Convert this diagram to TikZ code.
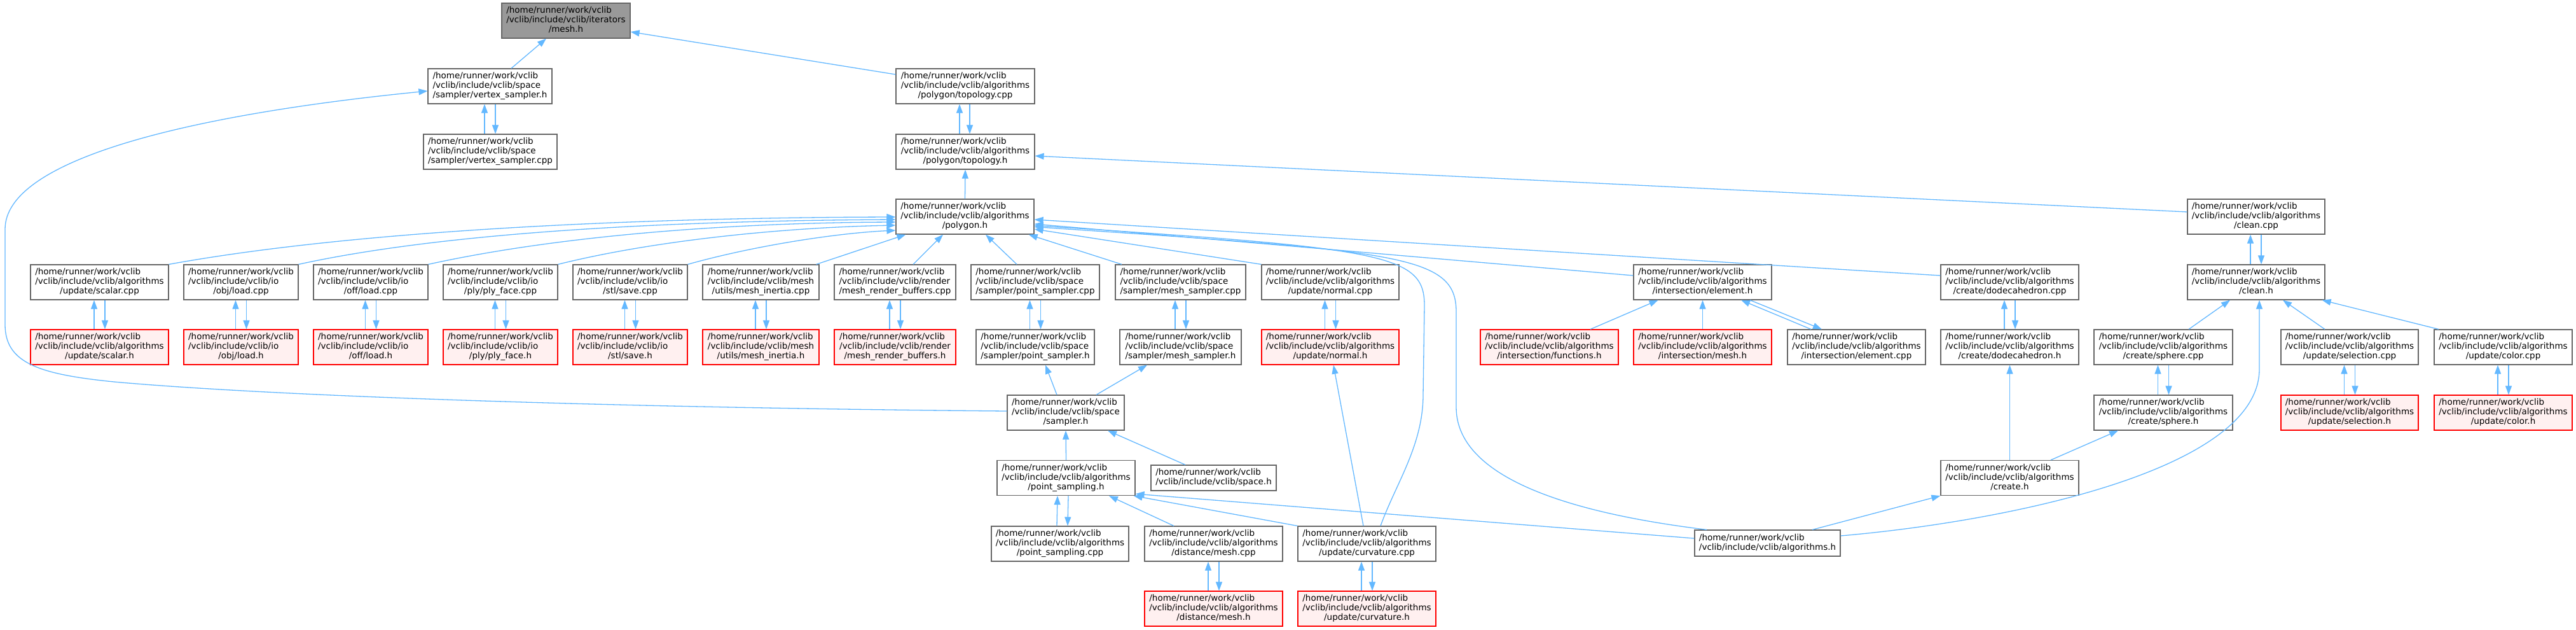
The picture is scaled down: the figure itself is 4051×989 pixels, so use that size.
\documentclass[tikz,border=0pt]{standalone}
\usepackage{fontspec}
\setmainfont{DejaVu Sans}
\usetikzlibrary{arrows.meta}
\definecolor{edgeblue}{HTML}{63B8FF}
\definecolor{boxgray}{HTML}{666666}
\definecolor{hlfill}{HTML}{999999}
\definecolor{redfill}{HTML}{FFF0F0}
\newcommand{\hrw}{/home/runner/work/vclib}
\newcommand{\lthree}[3]{\begin{tabular}{@{}l@{}}#1\\#2\\\multicolumn{1}{@{}c@{}}{#3}\end{tabular}}
\newcommand{\ltwo}[2]{\begin{tabular}{@{}l@{}}#1\\\multicolumn{1}{@{}c@{}}{#2}\end{tabular}}
\begin{document}
\begin{tikzpicture}[x=1pt,y=-1pt,
  font=\fontsize{13.5}{15}\selectfont,
  box/.style={rectangle, draw=boxgray, line width=1.2pt, fill=white, inner sep=0pt, minimum height=55pt},
  hl/.style={box, fill=hlfill},
  trunc/.style={box, draw=red, fill=redfill},
  edge/.style={draw=edgeblue, line width=1.3pt, -{Triangle[length=14pt,width=10pt]}}]
\fill[white] (0,0) rectangle (4051,989);
\useasboundingbox (0,0) rectangle (4051,989);
% row 0
\node[hl, minimum width=202pt] (itmesh) at (890,32.5) {\lthree{\hrw}{/vclib/include/vclib/iterators}{/mesh.h}};
% row 1
\node[box, minimum width=195pt] (vsh) at (770.5,135.5) {\lthree{\hrw}{/vclib/include/vclib/space}{/sampler/vertex\_sampler.h}};
\node[box, minimum width=218pt] (topocpp) at (1518,135.5) {\lthree{\hrw}{/vclib/include/vclib/algorithms}{/polygon/topology.cpp}};
% row 2
\node[box, minimum width=210pt] (vscpp) at (771,238.5) {\lthree{\hrw}{/vclib/include/vclib/space}{/sampler/vertex\_sampler.cpp}};
\node[box, minimum width=218pt] (topoh) at (1518,238.5) {\lthree{\hrw}{/vclib/include/vclib/algorithms}{/polygon/topology.h}};
% row 3
\node[box, minimum width=217pt] (polyh) at (1517.5,340.5) {\lthree{\hrw}{/vclib/include/vclib/algorithms}{/polygon.h}};
\node[box, minimum width=216pt] (cleancpp) at (3548,340.5) {\lthree{\hrw}{/vclib/include/vclib/algorithms}{/clean.cpp}};
% row 4
\node[box, minimum width=217pt] (scalarcpp) at (156.5,443.5) {\lthree{\hrw}{/vclib/include/vclib/algorithms}{/update/scalar.cpp}};
\node[box, minimum width=180pt] (objcpp) at (379,443.5) {\lthree{\hrw}{/vclib/include/vclib/io}{/obj/load.cpp}};
\node[box, minimum width=180pt] (offcpp) at (583,443.5) {\lthree{\hrw}{/vclib/include/vclib/io}{/off/load.cpp}};
\node[box, minimum width=180pt] (plycpp) at (787,443.5) {\lthree{\hrw}{/vclib/include/vclib/io}{/ply/ply\_face.cpp}};
\node[box, minimum width=180pt] (stlcpp) at (991,443.5) {\lthree{\hrw}{/vclib/include/vclib/io}{/stl/save.cpp}};
\node[box, minimum width=183pt] (inertiacpp) at (1196.5,443.5) {\lthree{\hrw}{/vclib/include/vclib/mesh}{/utils/mesh\_inertia.cpp}};
\node[box, minimum width=191pt] (mrbcpp) at (1407.5,443.5) {\lthree{\hrw}{/vclib/include/vclib/render}{/mesh\_render\_buffers.cpp}};
\node[box, minimum width=202pt] (pscpp) at (1628,443.5) {\lthree{\hrw}{/vclib/include/vclib/space}{/sampler/point\_sampler.cpp}};
\node[box, minimum width=205pt] (mscpp) at (1856.5,443.5) {\lthree{\hrw}{/vclib/include/vclib/space}{/sampler/mesh\_sampler.cpp}};
\node[box, minimum width=216pt] (normalcpp) at (2092,443.5) {\lthree{\hrw}{/vclib/include/vclib/algorithms}{/update/normal.cpp}};
\node[box, minimum width=217pt] (elemh) at (2677.5,443.5) {\lthree{\hrw}{/vclib/include/vclib/algorithms}{/intersection/element.h}};
\node[box, minimum width=217pt] (dodecpp) at (3160.5,443.5) {\lthree{\hrw}{/vclib/include/vclib/algorithms}{/create/dodecahedron.cpp}};
\node[box, minimum width=216pt] (cleanh) at (3548,443.5) {\lthree{\hrw}{/vclib/include/vclib/algorithms}{/clean.h}};
% row 5
\node[trunc, minimum width=217pt] (scalarh) at (156.5,545.5) {\lthree{\hrw}{/vclib/include/vclib/algorithms}{/update/scalar.h}};
\node[trunc, minimum width=180pt] (objh) at (379,545.5) {\lthree{\hrw}{/vclib/include/vclib/io}{/obj/load.h}};
\node[trunc, minimum width=180pt] (offh) at (583,545.5) {\lthree{\hrw}{/vclib/include/vclib/io}{/off/load.h}};
\node[trunc, minimum width=180pt] (plyh) at (787,545.5) {\lthree{\hrw}{/vclib/include/vclib/io}{/ply/ply\_face.h}};
\node[trunc, minimum width=180pt] (stlh) at (991,545.5) {\lthree{\hrw}{/vclib/include/vclib/io}{/stl/save.h}};
\node[trunc, minimum width=183pt] (inertiah) at (1196.5,545.5) {\lthree{\hrw}{/vclib/include/vclib/mesh}{/utils/mesh\_inertia.h}};
\node[trunc, minimum width=191pt] (mrbh) at (1407.5,545.5) {\lthree{\hrw}{/vclib/include/vclib/render}{/mesh\_render\_buffers.h}};
\node[box, minimum width=186pt] (psh) at (1628,545.5) {\lthree{\hrw}{/vclib/include/vclib/space}{/sampler/point\_sampler.h}};
\node[box, minimum width=191pt] (msh) at (1856.5,545.5) {\lthree{\hrw}{/vclib/include/vclib/space}{/sampler/mesh\_sampler.h}};
\node[trunc, minimum width=216pt] (normalh) at (2092,545.5) {\lthree{\hrw}{/vclib/include/vclib/algorithms}{/update/normal.h}};
\node[trunc, minimum width=217pt] (funch) at (2436.5,545.5) {\lthree{\hrw}{/vclib/include/vclib/algorithms}{/intersection/functions.h}};
\node[trunc, minimum width=217pt] (imeshh) at (2677.5,545.5) {\lthree{\hrw}{/vclib/include/vclib/algorithms}{/intersection/mesh.h}};
\node[box, minimum width=217pt] (elemcpp) at (2919.5,545.5) {\lthree{\hrw}{/vclib/include/vclib/algorithms}{/intersection/element.cpp}};
\node[box, minimum width=217pt] (dodeh) at (3160.5,545.5) {\lthree{\hrw}{/vclib/include/vclib/algorithms}{/create/dodecahedron.h}};
\node[box, minimum width=218pt] (spherecpp) at (3402,545.5) {\lthree{\hrw}{/vclib/include/vclib/algorithms}{/create/sphere.cpp}};
\node[box, minimum width=216pt] (selcpp) at (3695,545.5) {\lthree{\hrw}{/vclib/include/vclib/algorithms}{/update/selection.cpp}};
\node[box, minimum width=217pt] (colorcpp) at (3936.5,545.5) {\lthree{\hrw}{/vclib/include/vclib/algorithms}{/update/color.cpp}};
% row 6
\node[box, minimum width=184pt] (samplerh) at (1676,648.5) {\lthree{\hrw}{/vclib/include/vclib/space}{/sampler.h}};
\node[box, minimum width=218pt] (sphereh) at (3402,648.5) {\lthree{\hrw}{/vclib/include/vclib/algorithms}{/create/sphere.h}};
\node[trunc, minimum width=216pt] (selh) at (3695,648.5) {\lthree{\hrw}{/vclib/include/vclib/algorithms}{/update/selection.h}};
\node[trunc, minimum width=217pt] (colorh) at (3936.5,648.5) {\lthree{\hrw}{/vclib/include/vclib/algorithms}{/update/color.h}};
% row 7
\node[box, minimum width=217pt] (psamplingh) at (1676.5,751) {\lthree{\hrw}{/vclib/include/vclib/algorithms}{/point\_sampling.h}};
\node[box, minimum width=197pt, minimum height=40pt] (spaceh) at (1908.5,751) {\ltwo{\hrw}{/vclib/include/vclib/space.h}};
\node[box, minimum width=217pt] (createh) at (3160.5,751) {\lthree{\hrw}{/vclib/include/vclib/algorithms}{/create.h}};
% row 8
\node[box, minimum width=216pt] (psamplingcpp) at (1667,854.5) {\lthree{\hrw}{/vclib/include/vclib/algorithms}{/point\_sampling.cpp}};
\node[box, minimum width=217pt] (distcpp) at (1908.5,854.5) {\lthree{\hrw}{/vclib/include/vclib/algorithms}{/distance/mesh.cpp}};
\node[box, minimum width=217pt] (curvcpp) at (2149.5,854.5) {\lthree{\hrw}{/vclib/include/vclib/algorithms}{/update/curvature.cpp}};
\node[box, minimum width=229pt, minimum height=41pt] (algoh) at (2779.5,853.5) {\ltwo{\hrw}{/vclib/include/vclib/algorithms.h}};
% row 9
\node[trunc, minimum width=217pt] (disth) at (1908.5,956.5) {\lthree{\hrw}{/vclib/include/vclib/algorithms}{/distance/mesh.h}};
\node[trunc, minimum width=217pt] (curvh) at (2149.5,956.5) {\lthree{\hrw}{/vclib/include/vclib/algorithms}{/update/curvature.h}};

% ---- edges ----
\draw[edge] ([xshift=33.5pt]vsh.north) -- ([xshift=-31pt]itmesh.south);
\draw[edge] ([yshift=18.5pt]topocpp.west) -- ([yshift=-17.5pt]itmesh.east);
\draw[edge] ([xshift=-9pt]vscpp.north) -- ([xshift=-8.5pt]vsh.south);
\draw[edge] ([xshift=8.5pt]vsh.south) -- ([xshift=8pt]vscpp.north);
\draw[edge] ([xshift=-9pt]topoh.north) -- ([xshift=-9pt]topocpp.south);
\draw[edge] ([xshift=7pt]topocpp.south) -- ([xshift=7pt]topoh.north);
\draw[edge] (polyh.north) -- (topoh.south);
\draw[edge] ([yshift=7.5pt]cleancpp.west) -- ([yshift=-6.5pt]topoh.east);
\draw[edge] ([xshift=-9pt]cleanh.north) -- ([xshift=-9pt]cleancpp.south);
\draw[edge] ([xshift=8pt]cleancpp.south) -- ([xshift=8pt]cleanh.north);
\draw[edge] ([yshift=2.5pt]samplerh.west) .. controls (900,640) and (400,620) .. (179,600) .. controls (60,588) and (8,570) .. (8,510) -- (8,360) .. controls (8,250) and (300,180) .. ([yshift=-7.5pt]vsh.west);
% into polygon.h from the left
\draw[edge] (scalarcpp.north east) .. controls (560,362) and (1000,342) .. ([yshift=-0.5pt]polyh.west);
\draw[edge] (objcpp.north east) .. controls (700,365) and (1050,347) .. ([yshift=-4.5pt]polyh.west);
\draw[edge] (offcpp.north east) .. controls (880,370) and (1150,350) .. ([yshift=-8.5pt]polyh.west);
\draw[edge] (plycpp.north east) .. controls (1040,375) and (1250,357) .. ([yshift=-13.5pt]polyh.west);
\draw[edge] (stlcpp.north east) .. controls (1190,385) and (1320,366) .. ([yshift=-21.5pt]polyh.west);
\draw[edge] ([xshift=-5pt]inertiacpp.north east) -- ([xshift=16pt]polyh.south west);
\draw[edge] ([xshift=28.5pt]mrbcpp.north) -- ([xshift=-34.5pt]polyh.south);
\draw[edge] ([xshift=-29pt]pscpp.north) -- ([xshift=32.5pt]polyh.south);
\draw[edge] ([xshift=-92.5pt]mscpp.north) -- ([xshift=-9pt]polyh.south east);
\draw[edge] (normalcpp.north west) -- ([yshift=-19.5pt]polyh.east);
\draw[edge] ([yshift=10.5pt]elemh.west) -- ([yshift=-11.5pt]polyh.east);
\draw[edge] ([yshift=10.5pt]dodecpp.west) -- ([yshift=-4.5pt]polyh.east);
\draw[edge] ([xshift=21.5pt]curvcpp.north) .. controls (2195,760) and (2238,700) .. (2238,620) -- (2240,480) .. controls (2240,400) and (2180,390) .. ([yshift=-14pt]polyh.east);
\draw[edge] ([xshift=-95.5pt]algoh.north) .. controls (2500,810) and (2290,760) .. (2290,640) -- (2290,490) .. controls (2290,400) and (2200,395) .. ([yshift=-16pt]polyh.east);
\draw[edge] ([xshift=-5.5pt]curvcpp.north) -- ([xshift=5pt]normalh.south);
% pairs
\foreach \t/\b in {scalarcpp/scalarh, objcpp/objh, offcpp/offh, plycpp/plyh, stlcpp/stlh, inertiacpp/inertiah, mrbcpp/mrbh, pscpp/psh, mscpp/msh, normalcpp/normalh, dodecpp/dodeh, spherecpp/sphereh, selcpp/selh, colorcpp/colorh, distcpp/disth, curvcpp/curvh}{
  \draw[edge] ([xshift=-8.5pt]\b.north) -- ([xshift=-8.5pt]\t.south);
  \draw[edge] ([xshift=8.5pt]\t.south) -- ([xshift=8.5pt]\b.north);
}
% sampler area
\draw[edge] ([xshift=-14pt]samplerh.north) -- ([xshift=16pt]psh.south);
\draw[edge] ([xshift=48pt]samplerh.north) -- ([xshift=-52.5pt]msh.south);
\draw[edge] (psamplingh.north) -- (samplerh.south);
\draw[edge] ([xshift=-44.5pt]spaceh.north) -- ([xshift=66pt]samplerh.south);
\draw[edge] ([xshift=-5pt]psamplingcpp.north) -- ([xshift=-13.5pt]psamplingh.south);
\draw[edge] ([xshift=3.5pt]psamplingh.south) -- ([xshift=12pt]psamplingcpp.north);
\draw[edge] ([xshift=-62.5pt]distcpp.north) -- ([xshift=67.5pt]psamplingh.south);
\draw[edge] (curvcpp.north west) -- ([xshift=-3pt]psamplingh.south east);
\draw[edge] ([yshift=7.5pt]algoh.west) -- ([yshift=3pt]psamplingh.south east);
% intersection
\draw[edge] ([xshift=64.5pt]funch.north) -- ([xshift=-70pt]elemh.south);
\draw[edge] (imeshh.north) -- (elemh.south);
\draw[edge] ([xshift=-71.5pt]elemcpp.north) -- ([xshift=60.5pt]elemh.south);
\draw[edge] ([xshift=74.5pt]elemh.south) -- ([xshift=-54.5pt]elemcpp.north);
% create / clean
\draw[edge] (createh.north) -- (dodeh.south);
\draw[edge] ([xshift=64.5pt]createh.north) -- ([xshift=-71pt]sphereh.south);
\draw[edge] ([xshift=70.5pt]algoh.north) -- (createh.south west);
\draw[edge] ([yshift=11.5pt]algoh.east) .. controls (3150,820) and (3553,740) .. (3553,580) -- ([xshift=5pt]cleanh.south);
\draw[edge] ([xshift=40pt]spherecpp.north) -- ([xshift=-41pt]cleanh.south);
\draw[edge] ([xshift=-39pt]selcpp.north) -- ([xshift=42pt]cleanh.south);
\draw[edge] ([xshift=-101.5pt]colorcpp.north) -- ([xshift=-5pt]cleanh.south east);
\end{tikzpicture}
\end{document}
